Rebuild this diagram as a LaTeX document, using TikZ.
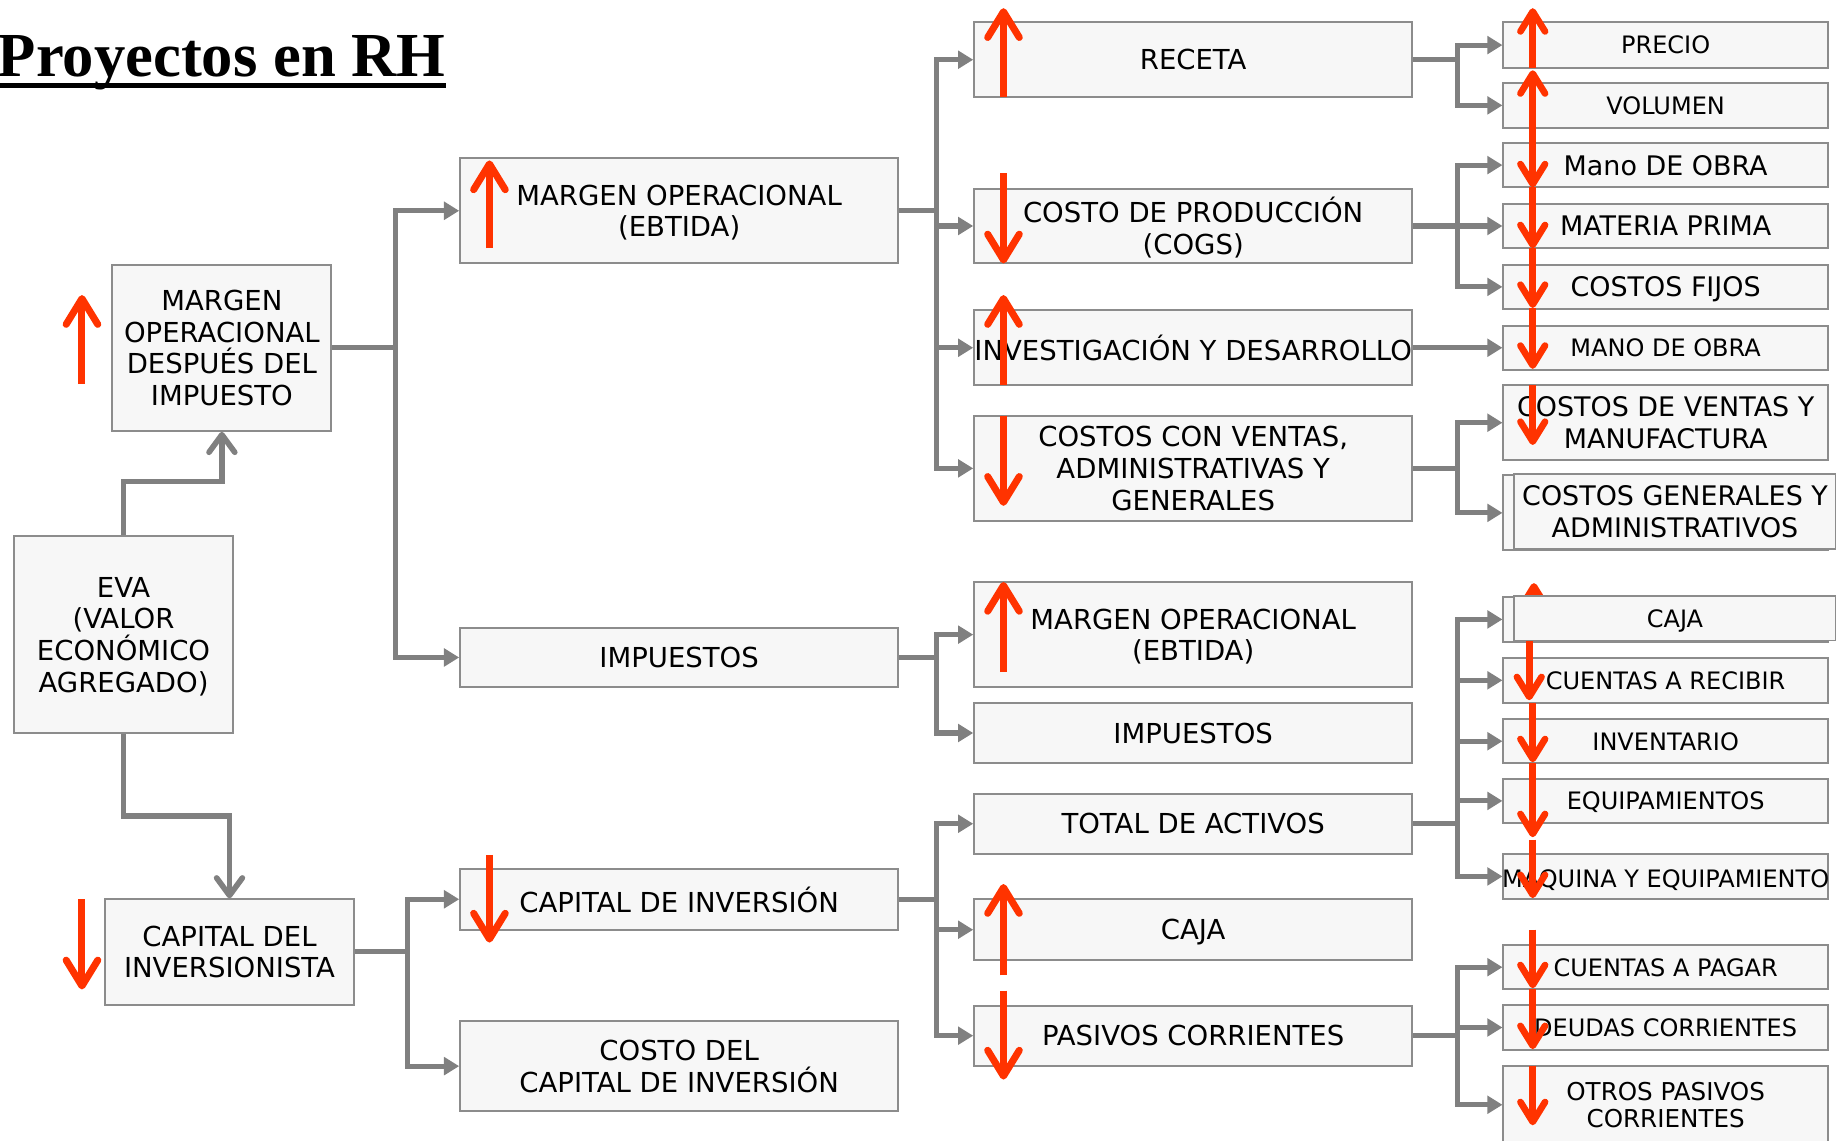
\documentclass[tikz,border=0pt]{standalone}
\usepackage{fontspec}
\setmainfont{DejaVu Sans}
\newfontfamily\titlefont{Liberation Serif}
\usetikzlibrary{arrows.meta}

\definecolor{cellfill}{HTML}{F7F7F7}
\definecolor{cellline}{HTML}{8C8C8C}
\definecolor{linkgray}{HTML}{808080}
\definecolor{trendred}{HTML}{FF3300}

\newcommand{\fbig}{\fontsize{23.5}{27}\selectfont}
\newcommand{\fmid}{\fontsize{23}{27}\selectfont}
\newcommand{\fsmall}{\fontsize{20.5}{24}\selectfont}
\newcommand{\fpas}{\fontsize{21}{23}\selectfont}

\tikzset{
  cell/.style={draw=cellline, fill=cellfill, line width=1.7pt, inner sep=0pt, text depth=0pt, align=center, font=\fbig},
  mid/.style={cell, minimum width=374pt},
  leaf/.style={cell, minimum width=277pt, minimum height=38pt, font=\fsmall},
  link/.style={draw=linkgray, line width=4.3pt, -{Triangle[length=13pt,width=15pt]}},
  evalink/.style={draw=linkgray, line width=4.8pt, -{Straight Barb[length=15pt,width=22pt,round]}},
  trend/.style={draw=trendred, line width=6pt, -{Straight Barb[length=22pt,width=27pt,round]}},
  trendsm/.style={draw=trendred, line width=5.7pt, -{Straight Barb[length=17pt,width=21pt,round]}}
}

\begin{document}
\begin{tikzpicture}[x=1pt, y=-1pt]
  \useasboundingbox (0,0) rectangle (1568,974);
  \clip (0,0) rectangle (1568,974);

  \node[anchor=base west, inner sep=0pt, font=\titlefont\bfseries\fontsize{53.5}{60}\selectfont] (title) at (-2,65) {Proyectos en RH};
  \draw[line width=4pt] ([yshift=-8pt]title.base west) -- ([yshift=-8pt]title.base east);   %underline

  %first column
  \node[cell, minimum width=187pt, minimum height=142pt] (mdi) at (189.5,297) {MARGEN\\OPERACIONAL\\DESPUÉS DEL\\IMPUESTO};
  \node[cell, minimum width=187pt, minimum height=168pt] (eva) at (105.5,542) {EVA\\(VALOR\\ECONÓMICO\\AGREGADO)};
  \node[cell, minimum width=212pt, minimum height=90pt] (cdi) at (196,813) {CAPITAL DEL\\INVERSIONISTA};

  %second column
  \node[mid, minimum height=90pt] (mo) at (580,180) {MARGEN OPERACIONAL\\(EBTIDA)};
  \node[mid, minimum height=51pt] (imp) at (580,561.5) {IMPUESTOS};
  \node[mid, minimum height=52pt] (cinv) at (580,768) {CAPITAL DE INVERSIÓN};
  \node[mid, minimum height=77pt] (ccinv) at (580,910.5) {COSTO DEL\\CAPITAL DE INVERSIÓN};

  %third column
  \node[mid, minimum height=64pt] (rec) at (1019,51) {RECETA};
  \node[mid, minimum height=64pt] (cogs) at (1019,193) {COSTO DE PRODUCCIÓN\\(COGS)};
  \node[mid, minimum height=64pt] (id) at (1019,297) {INVESTIGACIÓN Y DESARROLLO};
  \node[mid, minimum height=90pt] (cvag) at (1019,400) {COSTOS CON VENTAS,\\ADMINISTRATIVAS Y\\GENERALES};
  \node[mid, minimum height=90pt] (mo2) at (1019,542) {MARGEN OPERACIONAL\\(EBTIDA)};
  \node[mid, minimum height=52pt] (imp2) at (1019,626) {IMPUESTOS};
  \node[mid, minimum height=51pt] (tda) at (1019,703.5) {TOTAL DE ACTIVOS};
  \node[mid, minimum height=52pt] (caja) at (1019,794) {CAJA};
  \node[mid, minimum height=51pt] (pc) at (1019,884.5) {PASIVOS CORRIENTES};

  %fourth column
  \node[leaf, minimum height=39pt] (pre) at (1422.5,38.5) {PRECIO};
  \node[leaf] (vol) at (1422.5,90) {VOLUMEN};
  \node[leaf, font=\fmid] (mob) at (1422.5,141) {Mano DE OBRA};
  \node[leaf, font=\fmid] (mp) at (1422.5,193) {MATERIA PRIMA};
  \node[leaf, font=\fmid] (cf) at (1422.5,245) {COSTOS FIJOS};
  \node[leaf] (mob2) at (1422.5,297) {MANO DE OBRA};
  \node[leaf, minimum height=64pt, font=\fmid] (cvm) at (1422.5,361) {COSTOS DE VENTAS Y\\MANUFACTURA};
  \node[leaf, minimum height=64pt] (cgab) at (1422.5,438) {};
  \node[leaf] (cajb) at (1422.5,529) {};
  \node[leaf] (cr) at (1422.5,581) {CUENTAS A RECIBIR};
  \node[leaf] (inv) at (1422.5,633) {INVENTARIO};
  \node[leaf] (eq) at (1422.5,684) {EQUIPAMIENTOS};
  \node[leaf, minimum height=39pt] (mye) at (1422.5,748.5) {\makebox[0pt]{MÁQUINA Y EQUIPAMIENTO}};
  \node[leaf] (cp) at (1422.5,826) {CUENTAS A PAGAR};
  \node[leaf, minimum height=39pt] (dc) at (1422.5,877.5) {DEUDAS CORRIENTES};
  \node[leaf, minimum height=67pt, font=\fpas] (opc) at (1422.5,943.5) {OTROS PASIVOS\\CORRIENTES};

  %EVA branches
  \draw[evalink] (eva.north) -- ++(0,-46) -| (mdi.south);
  \draw[evalink] (eva.south) -- ++(0,70) -| (cdi.north);

  %first to second column
  \draw[link] (mdi.east) -- ++(54,0) |- (mo.west);
  \draw[link] (mdi.east) -- ++(54,0) |- (imp.west);
  \draw[link] (cdi.east) -- ++(45,0) |- (cinv.west);
  \draw[link] (cdi.east) -- ++(45,0) |- (ccinv.west);

  %second to third column
  \draw[link] (mo.east) -- ++(32,0) |- (rec.west);
  \draw[link] (mo.east) -- ++(32,0) |- (cogs.west);
  \draw[link] (mo.east) -- ++(32,0) |- (id.west);
  \draw[link] (mo.east) -- ++(32,0) |- (cvag.west);
  \draw[link] (imp.east) -- ++(32,0) |- (mo2.west);
  \draw[link] (imp.east) -- ++(32,0) |- (imp2.west);
  \draw[link] (cinv.east) -- ++(32,0) |- (tda.west);
  \draw[link] (cinv.east) -- ++(32,0) |- (caja.west);
  \draw[link] (cinv.east) -- ++(32,0) |- (pc.west);

  %third to fourth column
  \draw[link] (rec.east) -- ++(38,0) |- (pre.west);
  \draw[link] (rec.east) -- ++(38,0) |- (vol.west);
  \draw[link] (cogs.east) -- ++(38,0) |- (mob.west);
  \draw[link] (cogs.east) -- ++(38,0) |- (mp.west);
  \draw[link] (cogs.east) -- ++(38,0) |- (cf.west);
  \draw[link] (id.east) -- (mob2.west);
  \draw[link] (cvag.east) -- ++(38,0) |- (cvm.west);
  \draw[link] (cvag.east) -- ++(38,0) |- (cgab.west);
  \draw[link] (tda.east) -- ++(38,0) |- (cajb.west);
  \draw[link] (tda.east) -- ++(38,0) |- (cr.west);
  \draw[link] (tda.east) -- ++(38,0) |- (inv.west);
  \draw[link] (tda.east) -- ++(38,0) |- (eq.west);
  \draw[link] (tda.east) -- ++(38,0) |- (mye.west);
  \draw[link] (pc.east) -- ++(38,0) |- (cp.west);
  \draw[link] (pc.east) -- ++(38,0) |- (dc.west);
  \draw[link] (pc.east) -- ++(38,0) |- (opc.west);

  %trend arrows, left columns
  \draw[trend] (70,328) -- (70,252);
  \draw[trend] (70,768) -- (70,845);
  \draw[trend] (418,212) -- (418,137);
  \draw[trend] (418,730) -- (418,805);
  \draw[trend] (857,83) -- (857,7);
  \draw[trend] (857,148) -- (857,225);
  \draw[trend] (857,329) -- (857,252);
  \draw[trend] (857,355) -- (857,432);
  \draw[trend] (857,574) -- (857,497);
  \draw[trend] (857,833) -- (857,755);
  \draw[trend] (857,846) -- (857,922);

  %trend arrows, last column
  \draw[trendsm] (1309,58) -- (1309,7);
  \draw[trendsm] (1309,135) -- (1309,60);
  \draw[trendsm] (1309,85) -- (1309,160);
  \draw[trendsm] (1309,160) -- (1309,212);
  \draw[trendsm] (1309,212) -- (1309,263);
  \draw[trendsm] (1309,263) -- (1309,315);
  \draw[trendsm] (1309,329) -- (1309,380);
  \draw[trendsm] (1310,545) -- (1310,498);
  \draw[trendsm] (1306,530) -- (1306,598);
  \draw[trendsm] (1309,600) -- (1309,651);
  \draw[trendsm] (1309,652) -- (1309,715);
  \draw[trendsm] (1309,717) -- (1309,767);
  \draw[trendsm] (1309,794) -- (1309,844);
  \draw[trendsm] (1309,845) -- (1309,896);
  \draw[trendsm] (1309,910) -- (1309,961);

  %boxes lying on top, shifted right
  \node[leaf, minimum width=275pt, minimum height=64pt, font=\fmid] (cga) at (1430.5,437) {COSTOS GENERALES Y\\ADMINISTRATIVOS};
  \node[leaf, minimum width=275pt] (caj) at (1430.5,528) {CAJA};
\end{tikzpicture}
\end{document}
